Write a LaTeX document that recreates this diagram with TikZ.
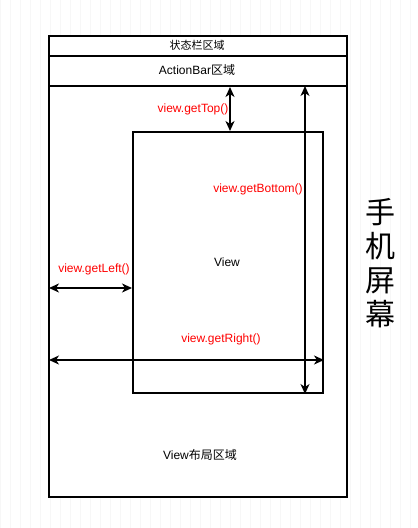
\documentclass[tikz,border=0pt]{standalone}
\usepackage{fontspec}
\setmainfont{Liberation Sans}
\newfontfamily\cjk{Noto Sans CJK SC}
\usepackage{tikz}
\usetikzlibrary{positioning,arrows.meta}

\definecolor{dimred}{HTML}{FF0000}
\tikzset{
	box/.style={draw, line width=2pt, fill=white, inner sep=0pt},
	dim/.style={line width=2pt, {Stealth[length=10pt,width=9pt,inset=3pt]}-{Stealth[length=10pt,width=9pt,inset=3pt]}},
	lbl/.style={font=\fontsize{12}{14}\selectfont, inner sep=0pt},
	redlbl/.style={lbl, text=dimred}
}

\begin{document}
\begin{tikzpicture}[x=1pt, y=-1pt]
	\useasboundingbox (0,0) rectangle (418,528);
	\draw[gray!6, step=10] (0,0) grid (418,528);
	
	% screen
	\node[box, minimum width=298pt, minimum height=461pt, anchor=north west] (screen) at (48,35) {};
	\node[box, minimum width=298pt, minimum height=20pt, anchor=north west] (statusbar) at (48,35) {};
	\node[box, minimum width=298pt, minimum height=30pt, anchor=north west] (actionbar) at (48,55) {};
	\node[lbl] (statustext) at (197,45) {\cjk\fontsize{11}{12}\selectfont 状态栏区域};
	\node[lbl] (actiontext) at (197,70) {ActionBar{\cjk 区域}};
	
	% view
	\node[box, minimum width=190pt, minimum height=261pt, anchor=north west] (view) at (132,131) {};
	\node[lbl] (viewtext) at (227,262) {View};
	\node[lbl] (layouttext) at (200,455) {View{\cjk 布局区域}};
	
	% dimensions
	\coordinate (topA) at (230,87);
	\coordinate (botA) at (305,86);
	\coordinate (leftA) at (49,288);
	\coordinate (rightA) at (49,360);
	\draw[dim] (topA) -- (topA |- view.north);
	\draw[dim, line width=1.3pt] (botA) -- (botA |- view.south);
	\draw[dim] (leftA) -- (leftA -| view.west);
	\draw[dim] (rightA) -- (rightA -| view.east);
	
	\node[redlbl] (gettop) at (193,109) {view.getTop()};
	\node[redlbl] (getbottom) at (258,189) {view.getBottom()};
	\node[redlbl] (getleft) at (94,269) {view.getLeft()};
	\node[redlbl] (getright) at (221,339) {view.getRight()};
	
	\node[align=center, font=\cjk\fontsize{30}{34}\selectfont] (phone) at (380,263) {手\\机\\屏\\幕};
\end{tikzpicture}
\end{document}
